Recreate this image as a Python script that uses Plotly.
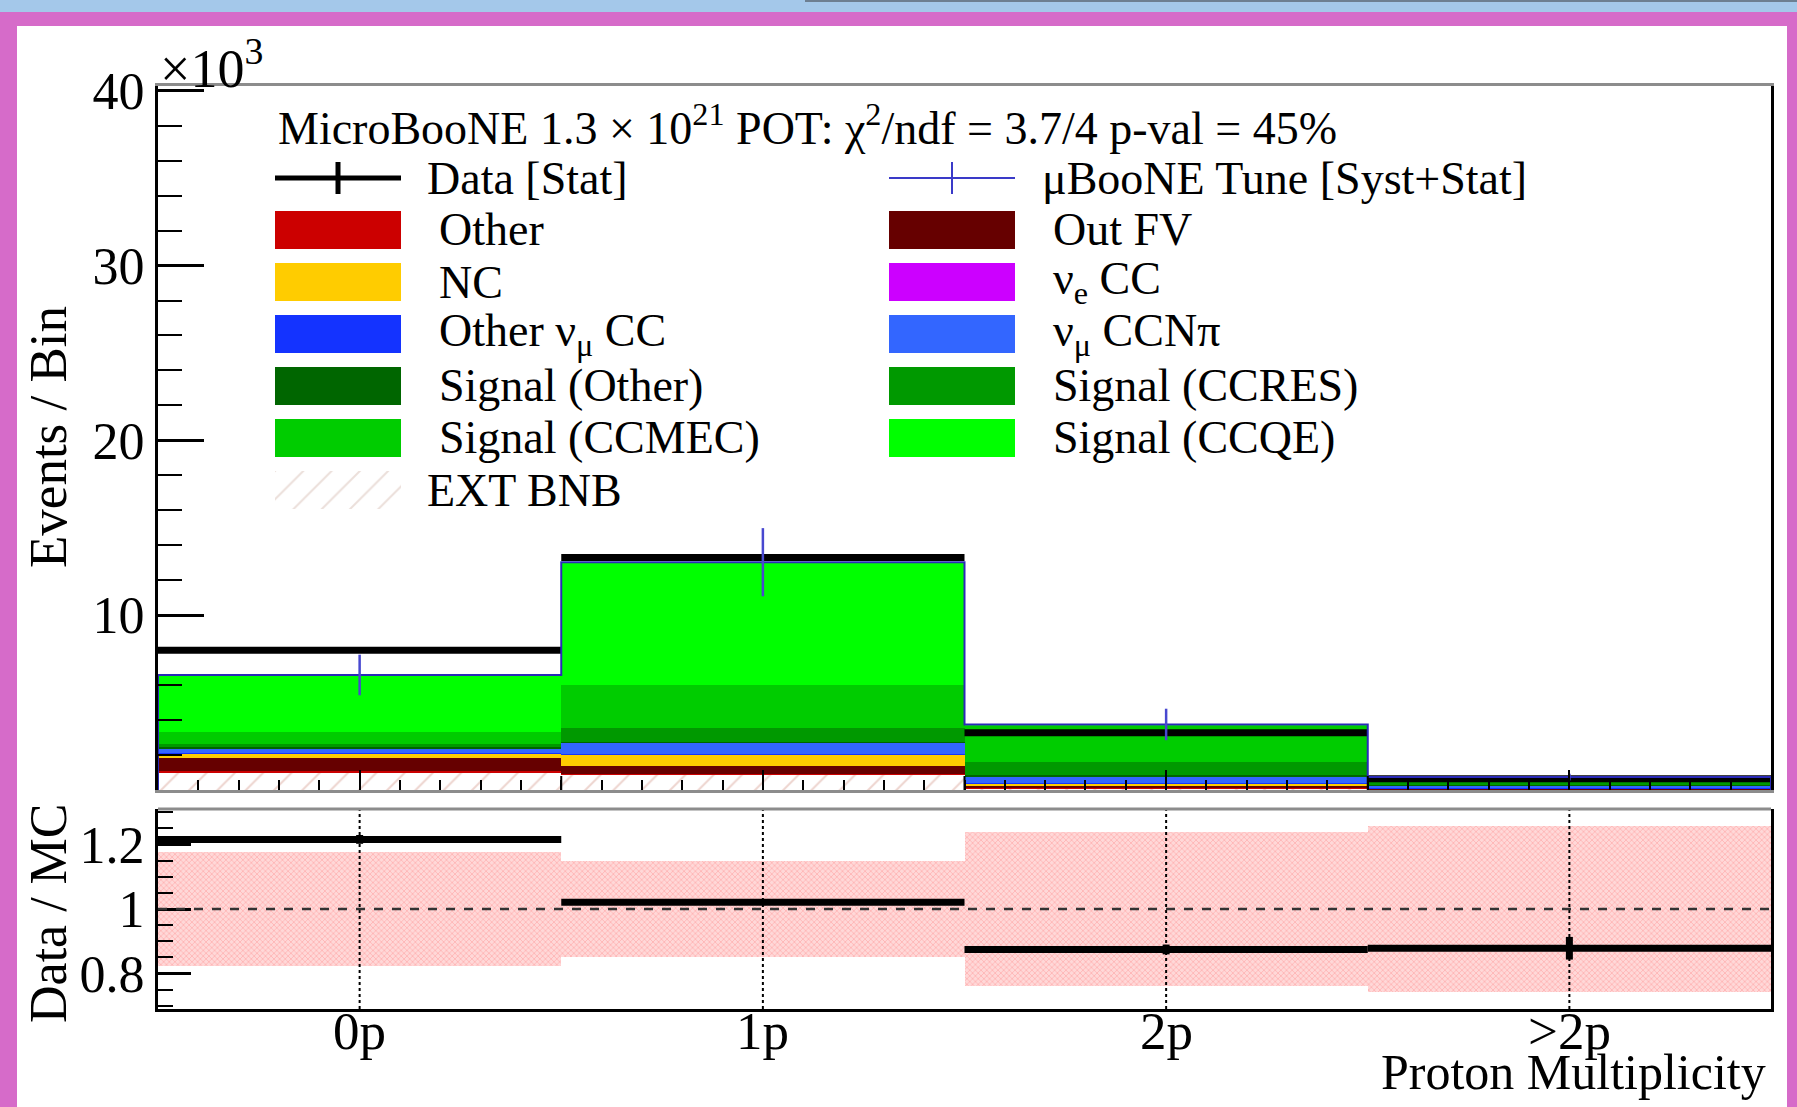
import numpy as np
import plotly.graph_objects as go

# ---------------------------------------------------------------------------
# Proton multiplicity: selected events per bin (units of 10^3 events)
# ---------------------------------------------------------------------------
bin_labels = ["0p", "1p", "2p", ">2p"]
bin_edges = [-0.5, 0.5, 1.5, 2.5, 3.5]

# MC prediction split by interaction category, bottom of the stack first
ext_bnb = [1.00, 0.86, 0.10, 0.02]
other = [0.10, 0.08, 0.03, 0.01]
out_fv = [0.75, 0.44, 0.08, 0.03]
nc = [0.22, 0.63, 0.15, 0.04]
nue_cc = [0.02, 0.01, 0.00, 0.00]
other_numu_cc = [0.05, 0.03, 0.02, 0.01]
numu_ccnpi = [0.25, 0.67, 0.42, 0.15]
signal_other = [0.05, 0.03, 0.03, 0.02]
signal_ccres = [0.20, 0.80, 0.80, 0.20]
signal_ccmec = [0.70, 2.48, 2.05, 0.24]
signal_ccqe = [3.24, 7.00, 0.07, 0.02]

# total MC uncertainty (syst + stat)
mc_err = [1.16, 1.95, 0.90, 0.19]

# data with statistical uncertainty
data = [8.00, 13.30, 3.28, 0.65]
data_err = [0.09, 0.115, 0.057, 0.026]

header_text = ("MicroBooNE 1.3 × 10<sup>21</sup> POT: χ<sup>2</sup>/ndf = 3.7/4 "
               "p-val = 45%")

# ---------------------------------------------------------------------------
W, H = 1797, 1107
FONT = "Liberation Serif"


def fx(px):
    return px / W


def fy(py):
    return 1 - py / H


edges = np.array(bin_edges)
centers = 0.5 * (edges[:-1] + edges[1:])
widths = np.diff(edges)
half = widths / 2

ext_name = "EXT BNB"
ext_pattern = dict(shape="/", fgcolor="#dcaa9e", bgcolor="white", size=20, solidity=0.1)

stack = [
    (ext_name, ext_bnb, None),
    ("Other", other, "#cc0000"),
    ("Out FV", out_fv, "#660000"),
    ("NC", nc, "#ffcc00"),
    ("ν<sub>e</sub> CC", nue_cc, "#cc00ff"),
    ("Other ν<sub>μ</sub> CC", other_numu_cc, "#1433ff"),
    ("ν<sub>μ</sub> CCNπ", numu_ccnpi, "#3366ff"),
    ("Signal (Other)", signal_other, "#006600"),
    ("Signal (CCRES)", signal_ccres, "#009900"),
    ("Signal (CCMEC)", signal_ccmec, "#00cc00"),
    ("Signal (CCQE)", signal_ccqe, "#00ff00"),
]

fig = go.Figure()

# stacked prediction
base = np.zeros(len(centers))
for name, vals, color in stack:
    vals = np.array(vals, dtype=float)
    if color is None:
        marker = dict(color="white", pattern=ext_pattern, line=dict(width=0))
    else:
        marker = dict(color=color, line=dict(width=0))
    fig.add_trace(go.Bar(x=centers, y=vals, base=base, width=widths, marker=marker,
                         name=name, xaxis="x", yaxis="y", hoverinfo="skip"))
    base = base + vals

mc_total = base.copy()
data_arr = np.array(data)
mc_err_arr = np.array(mc_err)

# data points with stat errors
fig.add_trace(go.Scatter(
    x=centers, y=data_arr, mode="markers", marker=dict(size=1, color="black"),
    error_x=dict(type="data", array=half, color="black", thickness=7, width=0),
    error_y=dict(type="data", array=data_err, color="black", thickness=7, width=0),
    xaxis="x", yaxis="y", hoverinfo="skip"))

# MC total outline
step_x = [edges[0]] + list(edges[:-1]) + [edges[-1], edges[-1]]
step_y = [0] + list(mc_total) + [mc_total[-1], 0]
fig.add_trace(go.Scatter(x=step_x, y=step_y, mode="lines", line_shape="hv",
                         line=dict(color="#2a2ab8", width=2),
                         xaxis="x", yaxis="y", hoverinfo="skip"))

# MC uncertainty bars
fig.add_trace(go.Scatter(
    x=centers, y=mc_total, mode="markers", marker=dict(size=1, color="rgba(0,0,0,0)"),
    error_y=dict(type="data", array=mc_err_arr, color="#4848d0", thickness=2.5, width=0),
    xaxis="x", yaxis="y", hoverinfo="skip"))

# ---------------------------------------------------------------------------
# ratio panel
rel = mc_err_arr / mc_total
fig.add_trace(go.Bar(
    x=centers, y=2 * rel, base=1 - rel, width=widths,
    marker=dict(color="#ffc8c8", line=dict(width=0),
                pattern=dict(shape="x", fgcolor="#ff9292", bgcolor="#ffd8d8",
                             size=4, solidity=0.4)),
    xaxis="x2", yaxis="y2", hoverinfo="skip"))

ratio = data_arr / mc_total
ratio_err = np.array(data_err) / mc_total
fig.add_trace(go.Scatter(
    x=centers, y=ratio, mode="markers", marker=dict(size=1, color="black"),
    error_x=dict(type="data", array=half, color="black", thickness=7, width=0),
    error_y=dict(type="data", array=ratio_err, color="black", thickness=7, width=0),
    xaxis="x2", yaxis="y2", hoverinfo="skip"))

# hatched swatch for the EXT BNB legend entry
fig.add_trace(go.Bar(x=[0.5], y=[1], width=[1],
                     marker=dict(color="white", line=dict(width=0),
                                 pattern=dict(shape="/", fgcolor="#d8bfb6", bgcolor="white",
                                              size=20, solidity=0.1)),
                     xaxis="x4", yaxis="y4", hoverinfo="skip"))

# ---------------------------------------------------------------------------
# geometry (pixel positions of the two pads)
L, R = 158, 1771
TOP_T, TOP_B = 86, 790
RAT_T, RAT_B = 809, 1009
TICKFONT = dict(family=FONT, size=52, color="black")

axis_common = dict(showgrid=False, zeroline=False, automargin=False)

fig.update_layout(
    width=W, height=H,
    margin=dict(l=0, r=0, t=0, b=0, pad=0, autoexpand=False),
    paper_bgcolor="#d66bc9",
    plot_bgcolor="white",
    barmode="overlay",
    bargap=0,
    showlegend=False,
    font=dict(family=FONT, color="black"),
    xaxis=dict(domain=[fx(L), fx(R)], anchor="y", range=[edges[0], edges[-1]],
               tickmode="array", tickvals=centers, showticklabels=False,
               ticks="inside", ticklen=20, tickwidth=2, tickcolor="black",
               minor=dict(tickmode="linear", tick0=0, dtick=0.1, ticks="inside",
                          ticklen=10, tickwidth=2, tickcolor="black"),
               showline=True, linecolor="#8c8c8c", linewidth=3, mirror=True,
               **axis_common),
    yaxis=dict(domain=[fy(TOP_B), fy(TOP_T)], anchor="x", range=[0, 40.27],
               tickmode="array", tickvals=[10, 20, 30, 40],
               ticks="inside", ticklen=46, tickwidth=3, tickcolor="black",
               minor=dict(tickmode="linear", tick0=0, dtick=2, ticks="inside",
                          ticklen=24, tickwidth=2, tickcolor="black"),
               tickfont=TICKFONT, showline=True, linecolor="black", linewidth=3,
               mirror=True, **axis_common),
    xaxis2=dict(domain=[fx(L), fx(R)], anchor="y2", range=[edges[0], edges[-1]],
                tickmode="array", tickvals=centers, showticklabels=False, ticks="",
                showline=True, linecolor="black", linewidth=3,
                mirror=False, **axis_common),
    yaxis2=dict(domain=[fy(RAT_B), fy(RAT_T)], anchor="x2", range=[0.69, 1.31],
                tickmode="array", tickvals=[0.8, 1.0, 1.2], ticktext=["0.8", "1", "1.2"],
                ticks="inside", ticklen=33, tickwidth=3, tickcolor="black",
                minor=dict(tickmode="linear", tick0=0, dtick=0.05, ticks="inside",
                           ticklen=15, tickwidth=2, tickcolor="black"),
                tickfont=TICKFONT, showline=True, linecolor="black", linewidth=3,
                mirror=True, **axis_common),
    xaxis4=dict(domain=[fx(275), fx(401)], anchor="y4", range=[0, 1], visible=False,
                automargin=False),
    yaxis4=dict(domain=[fy(509), fy(471)], anchor="x4", range=[0, 1], visible=False,
                automargin=False),
)

shapes = []
# page: top strip and white canvas inside the coloured border
shapes.append(dict(type="rect", xref="paper", yref="paper", x0=0, x1=1, y0=fy(12), y1=1,
                   fillcolor="#a4c8ea", line=dict(width=0), layer="below"))
shapes.append(dict(type="line", xref="paper", yref="paper", x0=fx(805), x1=1, y0=fy(1), y1=fy(1),
                   line=dict(color="#6d7f92", width=2), layer="below"))
shapes.append(dict(type="rect", xref="paper", yref="paper", x0=fx(17), x1=fx(1787),
                   y0=0, y1=fy(26), fillcolor="white", line=dict(width=0), layer="below"))

# medium ticks on bin edges of the upper pad
for e in edges[1:-1]:
    shapes.append(dict(type="line", xref="x", yref="y domain", x0=e, x1=e,
                       y0=0, y1=14 / (TOP_B - TOP_T),
                       line=dict(color="black", width=2)))

# ratio pad: dotted lines at bin centres, dashed unity line, grey top frame
for c in centers:
    shapes.append(dict(type="line", xref="x2", yref="y2 domain", x0=c, x1=c, y0=0, y1=1,
                       line=dict(color="black", width=2, dash="dot")))
shapes.append(dict(type="line", xref="x2 domain", yref="y2", x0=0, x1=1, y0=1, y1=1,
                   line=dict(color="#333333", width=2.5, dash="dash")))
shapes.append(dict(type="line", xref="x2 domain", yref="y2 domain", x0=0, x1=1, y0=1, y1=1,
                   line=dict(color="#8c8c8c", width=3)))

annotations = []


def text(x, y, s, size, xanchor="left", angle=0, xref="paper"):
    annotations.append(dict(x=fx(x) if xref == "paper" else x, y=fy(y),
                            xref=xref, yref="paper", text=s,
                            showarrow=False, xanchor=xanchor, yanchor="middle",
                            textangle=angle,
                            font=dict(family=FONT, size=size, color="black")))


# legend, two columns filled row by row
legend_entries = [("Data [Stat]", "data"), ("μBooNE Tune [Syst+Stat]", "mc")]
legend_entries += [(name, color) for name, _, color in stack[1:]]
legend_entries += [(ext_name, "hatch")]

LEG_FONT = 46
col_x0 = [275, 889]
sw_w, sw_h = 126, 38
row_y = [178 + 52 * i for i in range(7)]

for i, (name, style) in enumerate(legend_entries):
    r, c = divmod(i, 2)
    x0, yc = col_x0[c], row_y[r]
    if style == "data":
        shapes.append(dict(type="line", xref="paper", yref="paper", x0=fx(x0), x1=fx(x0 + sw_w),
                           y0=fy(yc), y1=fy(yc), line=dict(color="black", width=5)))
        shapes.append(dict(type="line", xref="paper", yref="paper",
                           x0=fx(x0 + sw_w / 2), x1=fx(x0 + sw_w / 2),
                           y0=fy(yc - 16), y1=fy(yc + 16), line=dict(color="black", width=5)))
        text(x0 + 150, yc, name, LEG_FONT)
    elif style == "mc":
        shapes.append(dict(type="line", xref="paper", yref="paper", x0=fx(x0), x1=fx(x0 + sw_w),
                           y0=fy(yc), y1=fy(yc), line=dict(color="#3a3ac8", width=2)))
        shapes.append(dict(type="line", xref="paper", yref="paper",
                           x0=fx(x0 + sw_w / 2), x1=fx(x0 + sw_w / 2),
                           y0=fy(yc - 16), y1=fy(yc + 16), line=dict(color="#3a3ac8", width=2)))
        text(x0 + 151, yc, name, LEG_FONT)
    elif style == "hatch":
        text(x0 + 150, yc, name, LEG_FONT)
    else:
        shapes.append(dict(type="rect", xref="paper", yref="paper", x0=fx(x0), x1=fx(x0 + sw_w),
                           y0=fy(yc + sw_h / 2), y1=fy(yc - sw_h / 2),
                           fillcolor=style, line=dict(width=0)))
        text(x0 + 162, yc, name, LEG_FONT)

text(276, 125, header_text, LEG_FONT)
text(158, 64, "×10<sup>3</sup>", 54)
text(48, 437, "Events / Bin", 53, xanchor="center", angle=-90)
text(48, 913, "Data / MC", 52, xanchor="center", angle=-90)

# category labels under the ratio pad
for c, lab in zip(centers, bin_labels):
    text(c, 1031, lab, 53, xanchor="center", xref="x2")

text(1768, 1072, "Proton Multiplicity", 50, xanchor="right")

fig.update_layout(shapes=shapes, annotations=annotations)

fig.write_html("out.html", config={"displayModeBar": False})
